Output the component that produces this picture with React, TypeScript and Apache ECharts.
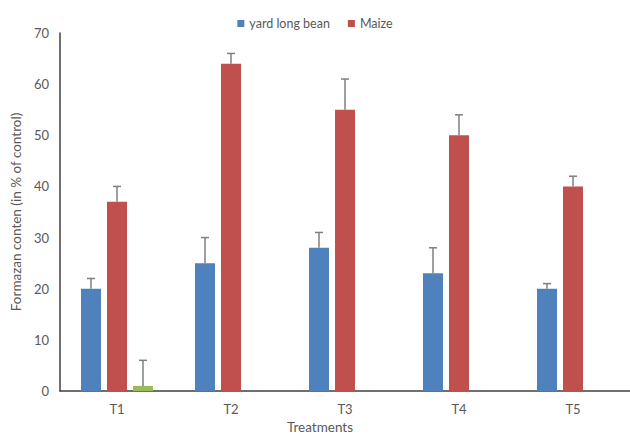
import React, { useEffect, useRef } from "react";
import * as echarts from "echarts";

const categories = ["T1", "T2", "T3", "T4", "T5"];
const beanValues = [20, 25, 28, 23, 20];
const beanUpper = [22, 30, 31, 28, 21];
const maizeValues = [37, 64, 55, 50, 40];
const maizeUpper = [40, 66, 61, 54, 42];
const thirdValues: (number | null)[] = [1, null, null, null, null];
const thirdUpper: (number | null)[] = [6, null, null, null, null];
const yTicks = { min: 0, max: 70, interval: 10 };

const FONT = "Lato";
const TEXT = "#595959";

function errorSeries(values: (number | null)[], upper: (number | null)[], offset: number) {
  const data = values.map((v, i) => [i, v, upper[i]]).filter((d) => d[1] != null && d[2] != null);
  return {
    type: "custom",
    silent: true,
    z: 5,
    data,
    renderItem: (params: any, api: any) => {
      const idx = api.value(0);
      const low = api.coord([idx, api.value(1)]);
      const high = api.coord([idx, api.value(2)]);
      const x = low[0] + offset;
      const style = { stroke: "#7f7f7f", lineWidth: 1.5 };
      return {
        type: "group",
        children: [
          { type: "line", shape: { x1: x, y1: low[1], x2: x, y2: high[1] }, style },
          { type: "line", shape: { x1: x - 4, y1: high[1], x2: x + 4, y2: high[1] }, style },
        ],
      };
    },
  };
}

export default function App() {
  const ref = useRef<HTMLDivElement>(null);
  useEffect(() => {
    if (!ref.current) return;
    const chart = echarts.init(ref.current, undefined, { renderer: "svg" });
    chart.setOption({
      animation: false,
      textStyle: { fontFamily: FONT },
      legend: {
        data: ["yard long bean", "Maize"],
        top: 12,
        left: "center",
        icon: "rect",
        itemWidth: 7,
        itemHeight: 7,
        itemGap: 18,
        itemTextGap: 4,
        textStyle: { color: TEXT, fontSize: 12.5, fontFamily: FONT },
      },
      grid: { left: 60, top: 33, width: 577, height: 358 },
      xAxis: {
        type: "category",
        data: categories,
        axisLine: { lineStyle: { color: "#404040", width: 1.5 } },
        axisTick: { show: false },
        axisLabel: { color: TEXT, fontSize: 13, margin: 11, fontFamily: FONT },
      },
      yAxis: {
        type: "value",
        min: yTicks.min,
        max: yTicks.max,
        interval: yTicks.interval,
        name: "Formazan conten (in % of control)",
        nameLocation: "middle",
        nameGap: 33,
        nameTextStyle: { color: TEXT, fontSize: 13.5, fontFamily: FONT },
        axisLine: { show: true, lineStyle: { color: "#404040", width: 1.5 } },
        axisTick: { show: false },
        splitLine: { show: false },
        axisLabel: { color: TEXT, fontSize: 13, margin: 11, fontFamily: FONT },
      },
      graphic: [
        {
          type: "text",
          x: 320,
          y: 427,
          style: {
            text: "Treatments",
            fill: TEXT,
            fontSize: 13.5,
            fontFamily: FONT,
            align: "center",
            verticalAlign: "middle",
          },
        },
      ],
      series: [
        { name: "yard long bean", type: "bar", data: beanValues, barWidth: 20, barGap: "30%", itemStyle: { color: "#4f81bd" } },
        { name: "Maize", type: "bar", data: maizeValues, barWidth: 20, barGap: "30%", itemStyle: { color: "#c0504d" } },
        { name: "Other", type: "bar", data: thirdValues, barWidth: 20, barGap: "30%", itemStyle: { color: "#9bbb59" } },
        errorSeries(beanValues, beanUpper, -26),
        errorSeries(maizeValues, maizeUpper, 0),
        errorSeries(thirdValues, thirdUpper, 26),
      ],
    });
    return () => chart.dispose();
  }, []);
  return (
    <div
      ref={ref}
      style={{ position: "absolute", left: 0, top: 0, width: 630, height: 435, overflow: "hidden" }}
    />
  );
}
